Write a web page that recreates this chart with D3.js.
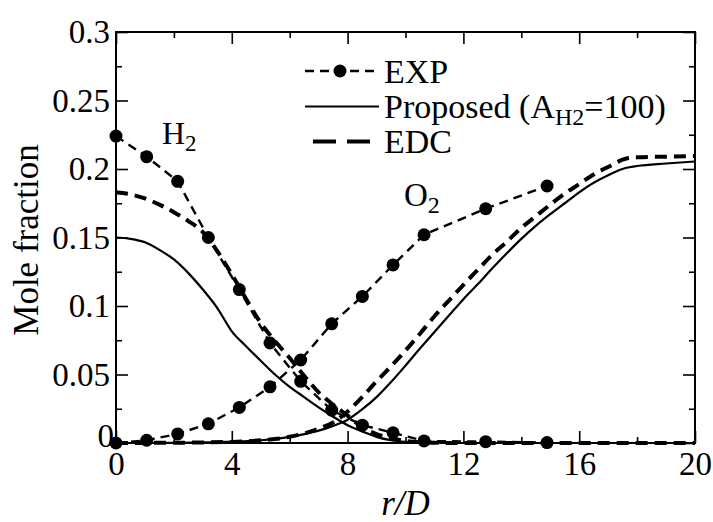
<!DOCTYPE html>
<html>
<head>
<meta charset="utf-8">
<script src="https://cdn.jsdelivr.net/npm/d3@7"></script>
<style>
  body { margin: 0; background: #fff; }
  svg { display: block; }
  text { font-family: "Liberation Serif", "Times New Roman", serif; fill: #000; }
</style>
</head>
<body>
<svg id="chart" width="713" height="522"></svg>
<script>
// Measured radial profiles (r/D) of H2 and O2 mole fraction
const rExp  = [0, 1.06, 2.13, 3.19, 4.26, 5.32, 6.38, 7.45, 8.51, 9.57, 10.64, 12.77, 14.89];
const h2Exp = [0.224, 0.209, 0.191, 0.150, 0.112, 0.073, 0.045, 0.024, 0.013, 0.0075, 0.0015, 0.001, 0.0003];
const o2Exp = [0, 0.002, 0.0066, 0.014, 0.026, 0.041, 0.0606, 0.087, 0.107, 0.130, 0.152, 0.171, 0.1876];

// Computed H2 profiles
const rH2Model = [0, 0.5, 1, 1.5, 2, 2.5, 3, 3.5, 4, 4.5, 5, 5.5, 6, 6.5, 7, 7.5, 8, 8.5, 9, 9.5, 10, 10.5, 11, 12, 14, 16, 18, 20];
const h2Proposed = [0.150, 0.149, 0.1465, 0.141, 0.134, 0.124, 0.112, 0.0985, 0.0815, 0.0705, 0.060, 0.0498, 0.041, 0.0335, 0.026, 0.0192, 0.013, 0.0085, 0.0045, 0.002, 0.0008, 0.0003, 0.0001, 0, 0, 0, 0, 0];
const h2Edc = [0.183, 0.1815, 0.1785, 0.174, 0.1685, 0.162, 0.154, 0.140, 0.123, 0.105, 0.0876, 0.0742, 0.062, 0.049, 0.037, 0.028, 0.020, 0.0115, 0.0065, 0.0035, 0.0015, 0.0006, 0.0002, 0, 0, 0, 0, 0];

// Computed O2 profiles
const rO2Model = [0, 2, 4, 5, 6, 6.5, 7, 7.5, 8, 8.5, 9, 9.5, 10, 10.5, 11, 11.5, 12, 12.5, 13, 13.5, 14, 14.5, 15, 15.5, 16, 16.5, 17, 17.6, 18, 19, 20];
const o2Proposed = [0, 0.0002, 0.001, 0.002, 0.0045, 0.0065, 0.009, 0.0125, 0.017, 0.0245, 0.0335, 0.0445, 0.0565, 0.069, 0.081, 0.093, 0.105, 0.116, 0.1275, 0.1385, 0.149, 0.1585, 0.167, 0.175, 0.183, 0.190, 0.1955, 0.2007, 0.2022, 0.204, 0.2055];
const o2Edc = [0, 0.0002, 0.0008, 0.002, 0.0045, 0.007, 0.0105, 0.015, 0.023, 0.0335, 0.045, 0.056, 0.0675, 0.0798, 0.0925, 0.104, 0.1155, 0.1265, 0.1375, 0.147, 0.157, 0.1655, 0.174, 0.182, 0.189, 0.196, 0.2015, 0.2075, 0.2085, 0.209, 0.2095];

// Axis ticks
const xMajor = [0, 4, 8, 12, 16, 20];
const xMinor = [2, 6, 10, 14, 18];
const yMajor = [0, 0.05, 0.1, 0.15, 0.2, 0.25, 0.3];
const yMinor = [0.025, 0.075, 0.125, 0.175, 0.225, 0.275];
const yLabels = ["0", "0.05", "0.1", "0.15", "0.2", "0.25", "0.3"];

const W = 713, H = 522;
const m = { left: 116, right: 18, top: 32, bottom: 79 };
const svg = d3.select("#chart");

const x = d3.scaleLinear().domain([0, 20]).range([m.left, W - m.right]);
const y = d3.scaleLinear().domain([0, 0.3]).range([H - m.bottom, m.top]);

const FS = 33;      // tick labels
const FS_T = 35;    // axis titles
const FS_L = 34;    // legend

// Inward ticks on all four sides
function styleAxis(g) {
  g.select(".domain").remove();
  g.selectAll(".tick line").attr("stroke", "#000").attr("stroke-width", 1.6);
  g.selectAll(".tick text").attr("font-size", FS).attr("font-family", "Liberation Serif, Times New Roman, serif").attr("fill", "#000");
}

svg.append("g").attr("transform", `translate(0,${y(0)})`)
  .call(d3.axisBottom(x).tickValues(xMajor).tickSizeInner(-12).tickSizeOuter(0).tickPadding(9).tickFormat(d3.format("d")))
  .call(styleAxis);
svg.append("g").attr("transform", `translate(0,${y(0)})`)
  .call(d3.axisBottom(x).tickValues(xMinor).tickSizeInner(-6).tickSizeOuter(0).tickFormat(""))
  .call(styleAxis);
svg.append("g").attr("transform", `translate(0,${y(0.3)})`)
  .call(d3.axisTop(x).tickValues(xMajor).tickSizeInner(-12).tickSizeOuter(0).tickFormat(""))
  .call(styleAxis);
svg.append("g").attr("transform", `translate(0,${y(0.3)})`)
  .call(d3.axisTop(x).tickValues(xMinor).tickSizeInner(-6).tickSizeOuter(0).tickFormat(""))
  .call(styleAxis);

const yAxisG = svg.append("g").attr("transform", `translate(${x(0)},0)`)
  .call(d3.axisLeft(y).tickValues(yMajor).tickSizeInner(-12).tickSizeOuter(0).tickPadding(6)
    .tickFormat((d, i) => yLabels[i]))
  .call(styleAxis);
yAxisG.selectAll(".tick text").attr("dy", "0.32em").filter(d => d === 0).attr("dx", 4).attr("dy", "0.1em");
svg.append("g").attr("transform", `translate(${x(0)},0)`)
  .call(d3.axisLeft(y).tickValues(yMinor).tickSizeInner(-6).tickSizeOuter(0).tickFormat(""))
  .call(styleAxis);
svg.append("g").attr("transform", `translate(${x(20)},0)`)
  .call(d3.axisRight(y).tickValues(yMajor).tickSizeInner(-12).tickSizeOuter(0).tickFormat(""))
  .call(styleAxis);
svg.append("g").attr("transform", `translate(${x(20)},0)`)
  .call(d3.axisRight(y).tickValues(yMinor).tickSizeInner(-6).tickSizeOuter(0).tickFormat(""))
  .call(styleAxis);

// Frame
svg.append("rect")
  .attr("x", x(0)).attr("y", y(0.3))
  .attr("width", x(20) - x(0)).attr("height", y(0) - y(0.3))
  .attr("fill", "none").attr("stroke", "#000").attr("stroke-width", 2);

// Axis titles
svg.append("text")
  .attr("x", (x(0) + x(20)) / 2).attr("y", 515)
  .attr("text-anchor", "middle").attr("font-size", FS_T).attr("font-style", "italic")
  .text("r/D");
svg.append("text")
  .attr("transform", `translate(38,240) rotate(-90)`)
  .attr("text-anchor", "middle").attr("font-size", FS_T)
  .text("Mole fraction");

// Series styles
const styles = {
  exp: { width: 2.4, dash: "9,6" },
  proposed: { width: 2.2, dash: null },
  edc: { width: 4, dash: "12,7" }
};

const smooth = d3.line().x(d => x(d[0])).y(d => y(d[1])).curve(d3.curveMonotoneX);
const straight = d3.line().x(d => x(d[0])).y(d => y(d[1]));

function drawLine(rs, vs, gen, st) {
  svg.append("path")
    .datum(rs.map((r, i) => [r, vs[i]]))
    .attr("d", gen)
    .attr("fill", "none").attr("stroke", "#000")
    .attr("stroke-width", st.width)
    .attr("stroke-dasharray", st.dash);
}

drawLine(rH2Model, h2Proposed, smooth, styles.proposed);
drawLine(rO2Model, o2Proposed, smooth, styles.proposed);
drawLine(rH2Model, h2Edc, smooth, styles.edc);
drawLine(rO2Model, o2Edc, smooth, styles.edc);
drawLine(rExp, h2Exp, straight, styles.exp);
drawLine(rExp, o2Exp, straight, styles.exp);

const R = 6.5;
[h2Exp, o2Exp].forEach(vs => {
  svg.append("g").selectAll("circle")
    .data(rExp.map((r, i) => [r, vs[i]]))
    .join("circle")
    .attr("cx", d => x(d[0])).attr("cy", d => y(d[1]))
    .attr("r", R).attr("fill", "#000");
});

// Species labels
const h2Label = svg.append("text").attr("x", 162).attr("y", 144).attr("font-size", 32);
h2Label.append("tspan").text("H");
h2Label.append("tspan").attr("font-size", 23).attr("dy", 7).text("2");

const o2Label = svg.append("text").attr("x", 404).attr("y", 206).attr("font-size", 33);
o2Label.append("tspan").text("O");
o2Label.append("tspan").attr("font-size", 24).attr("dy", 7).text("2");

// Legend
const legend = svg.append("g");
const lx0 = 305, lx1 = 379, tx = 384;
legend.append("line").attr("x1", lx0).attr("x2", lx1).attr("y1", 71).attr("y2", 71)
  .attr("stroke", "#000").attr("stroke-width", styles.exp.width).attr("stroke-dasharray", "9,6");
legend.append("circle").attr("cx", 340).attr("cy", 71).attr("r", R).attr("fill", "#000");
legend.append("text").attr("x", tx).attr("y", 83).attr("font-size", FS_L).text("EXP");

legend.append("line").attr("x1", lx0).attr("x2", lx1).attr("y1", 106.5).attr("y2", 106.5)
  .attr("stroke", "#000").attr("stroke-width", styles.proposed.width);
const pt = legend.append("text").attr("x", tx).attr("y", 118).attr("font-size", FS_L);
pt.append("tspan").text("Proposed (A");
pt.append("tspan").attr("font-size", 24).attr("dy", 7).text("H2");
pt.append("tspan").attr("dy", -7).text("=100)");

legend.append("line").attr("x1", 313).attr("x2", lx1).attr("y1", 141.5).attr("y2", 141.5)
  .attr("stroke", "#000").attr("stroke-width", styles.edc.width).attr("stroke-dasharray", "23,11");
legend.append("text").attr("x", tx).attr("y", 153).attr("font-size", FS_L).text("EDC");
</script>
</body>
</html>
